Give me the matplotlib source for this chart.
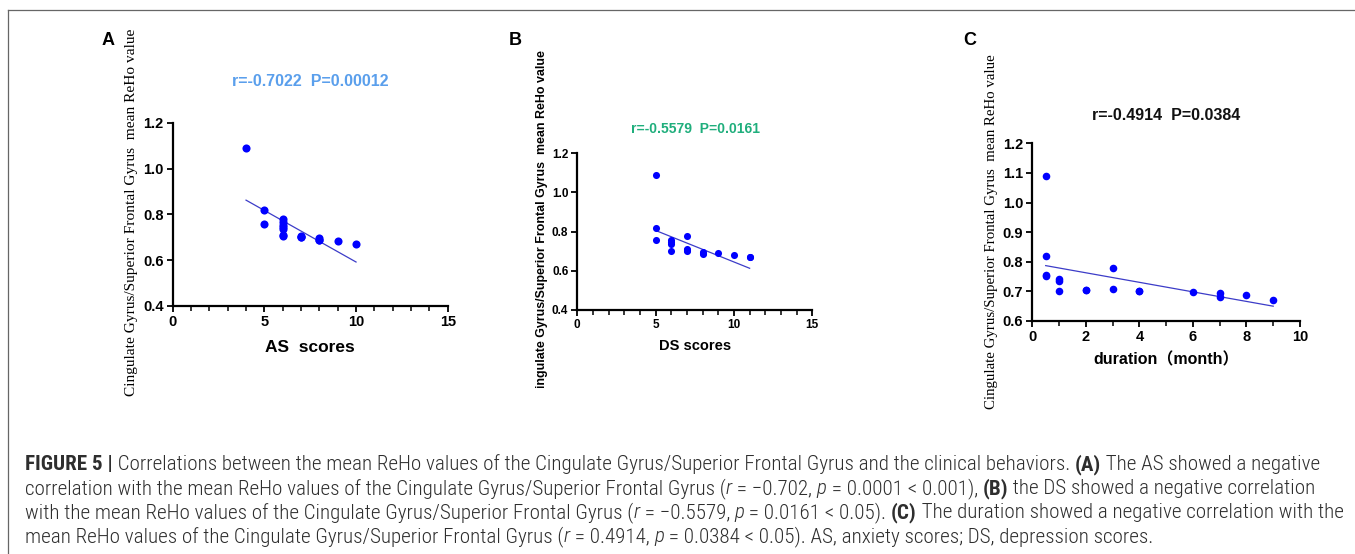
import matplotlib
matplotlib.use("Agg")
import matplotlib.pyplot as plt
from matplotlib import font_manager
from matplotlib.transforms import Bbox
from matplotlib.lines import Line2D

# ---------------- data ----------------
a_x = [4, 5, 5, 6, 6, 6, 6, 6, 6, 7, 7, 7, 8, 8, 8, 9, 10, 6]
a_y = [1.09, 0.82, 0.757, 0.78, 0.765, 0.745, 0.738, 0.71, 0.705, 0.703, 0.70, 0.706,
       0.698, 0.69, 0.686, 0.683, 0.672, 0.755]
a_fit_x = [4, 10]
a_fit_y = [0.862, 0.592]

b_x = [5, 5, 5, 6, 6, 6, 6, 7, 7, 7, 7, 8, 8, 8, 9, 10, 11, 11]
b_y = [1.09, 0.82, 0.757, 0.755, 0.745, 0.738, 0.70, 0.78, 0.71, 0.705, 0.70,
       0.695, 0.69, 0.686, 0.693, 0.682, 0.672, 0.67]
b_fit_x = [5, 11]
b_fit_y = [0.806, 0.613]

c_x = [0.5, 0.5, 0.5, 0.5, 1, 1, 1, 2, 2, 3, 3, 4, 4, 6, 7, 7, 8, 9]
c_y = [1.09, 0.82, 0.755, 0.752, 0.743, 0.736, 0.70, 0.705, 0.703, 0.779, 0.709,
       0.701, 0.70, 0.698, 0.695, 0.682, 0.687, 0.671]
c_fit_x = [0.5, 9]
c_fit_y = [0.787, 0.650]

titles = ["r=-0.7022  P=0.00012", "r=-0.5579  P=0.0161", "r=-0.4914  P=0.0384"]
xlabels = ["AS  scores", "DS scores", "duration（month）"]
ylabel = "Cingulate Gyrus/Superior Frontal Gyrus  mean ReHo value"

W, H = 1355, 554
fig = plt.figure(figsize=(W / 100, H / 100), dpi=100)
fig.patch.set_facecolor("white")

SANS = ["Liberation Sans", "DejaVu Sans"]
SANS_CJK = ["Liberation Sans", "Noto Sans CJK SC", "DejaVu Sans"]
SERIF = ["Liberation Serif", "DejaVu Serif"]

def px_rect(x0, x1, ytop, ybot):
    return [x0 / W, 1 - ybot / H, (x1 - x0) / W, (ybot - ytop) / H]

def style_axes(ax, xlim, ylim, xmajor, ymajor, xminor, tick_fs):
    ax.set_xlim(*xlim)
    ax.set_ylim(*ylim)
    for s in ["top", "right"]:
        ax.spines[s].set_visible(False)
    for s in ["left", "bottom"]:
        ax.spines[s].set_linewidth(1.6)
        ax.spines[s].set_color("black")
    ax.set_xticks(xmajor)
    ax.set_yticks(ymajor)
    ax.set_xticks(xminor, minor=True)
    ax.tick_params(axis="both", which="major", direction="out", length=4.5, width=1.3,
                   labelsize=tick_fs, pad=2)
    ax.tick_params(axis="x", which="minor", direction="out", length=3.5, width=1.1)
    for lab in ax.get_xticklabels() + ax.get_yticklabels():
        lab.set_fontweight("bold")
        lab.set_family(SANS)
    ax.yaxis.set_major_formatter(matplotlib.ticker.FormatStrFormatter("%.1f"))
    ax.set_facecolor("none")

POINT = "#0000ff"
LINEC = "#3c3cc8"

# Panel A
axA = fig.add_axes(px_rect(172.7, 447.7, 122.7, 306))
axA.plot(a_fit_x, a_fit_y, color=LINEC, lw=0.9, zorder=2)
axA.scatter(a_x, a_y, s=34, color=POINT, zorder=3, linewidths=0)
style_axes(axA, (0, 15), (0.4, 1.2), [0, 5, 10, 15], [0.4, 0.6, 0.8, 1.0, 1.2],
           list(range(16)), 10.5)
axA.set_xlabel(xlabels[0], fontsize=12.5, fontweight="bold", family=SANS, labelpad=8)

# Panel B
axB = fig.add_axes(px_rect(577.3, 812.3, 153.3, 310))
axB.plot(b_fit_x, b_fit_y, color=LINEC, lw=0.9, zorder=2)
axB.scatter(b_x, b_y, s=26, color=POINT, zorder=3, linewidths=0)
style_axes(axB, (0, 15), (0.4, 1.2), [0, 5, 10, 15], [0.4, 0.6, 0.8, 1.0, 1.2],
           list(range(16)), 8.5)
axB.set_xlabel(xlabels[1], fontsize=10.5, fontweight="bold", family=SANS, labelpad=6)

# Panel C
axC = fig.add_axes(px_rect(1032.3, 1300, 143.3, 321))
axC.plot(c_fit_x, c_fit_y, color=LINEC, lw=0.9, zorder=2)
axC.scatter(c_x, c_y, s=30, color=POINT, zorder=3, linewidths=0)
style_axes(axC, (0, 10), (0.6, 1.2), [0, 2, 4, 6, 8, 10],
           [0.6, 0.7, 0.8, 0.9, 1.0, 1.1, 1.2], list(range(11)), 10.5)
axC.set_xlabel(xlabels[2], fontsize=11.5, fontweight="bold", family=SANS_CJK, labelpad=6)

def fx(x):
    return x / W

def fy(y):
    return 1 - y / H

# titles
fig.text(fx(310), fy(86.5), titles[0], color="#5a9fec", fontsize=11.5, fontweight="bold",
         family=SANS, ha="center", va="baseline")
fig.text(fx(695), fy(133), titles[1], color="#1fae7c", fontsize=10, fontweight="bold",
         family=SANS, ha="center", va="baseline")
fig.text(fx(1166), fy(120), titles[2], color="#111111", fontsize=11.5, fontweight="bold",
         family=SANS, ha="center", va="baseline")

# panel letters
for lx, let in [(102, "A"), (509, "B"), (963, "C")]:
    fig.text(fx(lx), fy(45), let, fontsize=13, fontweight="bold", family=SANS,
             ha="left", va="baseline")

renderer = fig.canvas.get_renderer()

def fit_len(t, target, vertical=True):
    bb = t.get_window_extent(renderer)
    cur = bb.height if vertical else bb.width
    t.set_fontsize(t.get_fontsize() * target / cur)

# y labels
yA = fig.text(fx(131.7), fy(212.5), ylabel, rotation=90, family=SERIF, fontsize=11,
              ha="center", va="center")
fit_len(yA, 365)
yB = fig.text(fx(541.7), fy(224), ylabel, rotation=90, family=SANS, fontweight="bold",
              fontsize=10, ha="center", va="center")
fit_len(yB, 345)
yB.set_clip_box(Bbox.from_extents(0, H - 388, W, H))
yB.set_clip_on(True)
yC = fig.text(fx(991.7), fy(231.5), ylabel, rotation=90, family=SERIF, fontsize=11,
              ha="center", va="center")
fit_len(yC, 353)

# frame lines (top and left)
fig.add_artist(Line2D([fx(8), fx(W)], [fy(10), fy(10)], color="#666666", lw=0.9))
fig.add_artist(Line2D([fx(8), fx(8)], [fy(10), fy(H)], color="#666666", lw=0.9))

# caption
avail = {f.name for f in font_manager.fontManager.ttflist}
CAP_FAM = ["Roboto Condensed"] if "Roboto Condensed" in avail else ["Liberation Sans"]
CAP_COLOR = "#2e2e2e"
WT = {"normal": 300, "bold": 700}

cap_lines = [
    [("FIGURE 5 |", "bold", "normal"),
     (" Correlations between the mean ReHo values of the Cingulate Gyrus/Superior Frontal Gyrus and the clinical behaviors. ", "normal", "normal"),
     ("(A)", "bold", "normal"), (" The AS showed a negative", "normal", "normal")],
    [("correlation with the mean ReHo values of the Cingulate Gyrus/Superior Frontal Gyrus (", "normal", "normal"),
     ("r", "normal", "italic"), (" = \u22120.702, ", "normal", "normal"), ("p", "normal", "italic"),
     (" = 0.0001 < 0.001), ", "normal", "normal"), ("(B)", "bold", "normal"),
     (" the DS showed a negative correlation", "normal", "normal")],
    [("with the mean ReHo values of the Cingulate Gyrus/Superior Frontal Gyrus (", "normal", "normal"),
     ("r", "normal", "italic"), (" = \u22120.5579, ", "normal", "normal"), ("p", "normal", "italic"),
     (" = 0.0161 < 0.05). ", "normal", "normal"), ("(C)", "bold", "normal"),
     (" The duration showed a negative correlation with the", "normal", "normal")],
    [("mean ReHo values of the Cingulate Gyrus/Superior Frontal Gyrus (", "normal", "normal"),
     ("r", "normal", "italic"), (" = 0.4914, ", "normal", "normal"), ("p", "normal", "italic"),
     (" = 0.0384 < 0.05). AS, anxiety scores; DS, depression scores.", "normal", "normal")],
]
baselines = [470, 494, 518, 542]

def draw_line(parts, x0, yb, fs):
    objs = []
    x = x0
    for txt, wt, st in parts:
        t = fig.text(fx(x), fy(yb), txt, fontsize=fs, fontweight=WT[wt], fontstyle=st,
                     family=CAP_FAM + ["DejaVu Sans"], color=CAP_COLOR, ha="left",
                     va="baseline")
        bb = t.get_window_extent(renderer)
        x += bb.width
        objs.append(t)
    return objs, x - x0

test, w1 = draw_line(cap_lines[0], 25, baselines[0], 15)
for t in test:
    t.remove()
fs = 15 * 1293 / w1
for parts, yb in zip(cap_lines, baselines):
    draw_line(parts, 25, yb, fs)

fig.savefig("out.png", dpi=100)
